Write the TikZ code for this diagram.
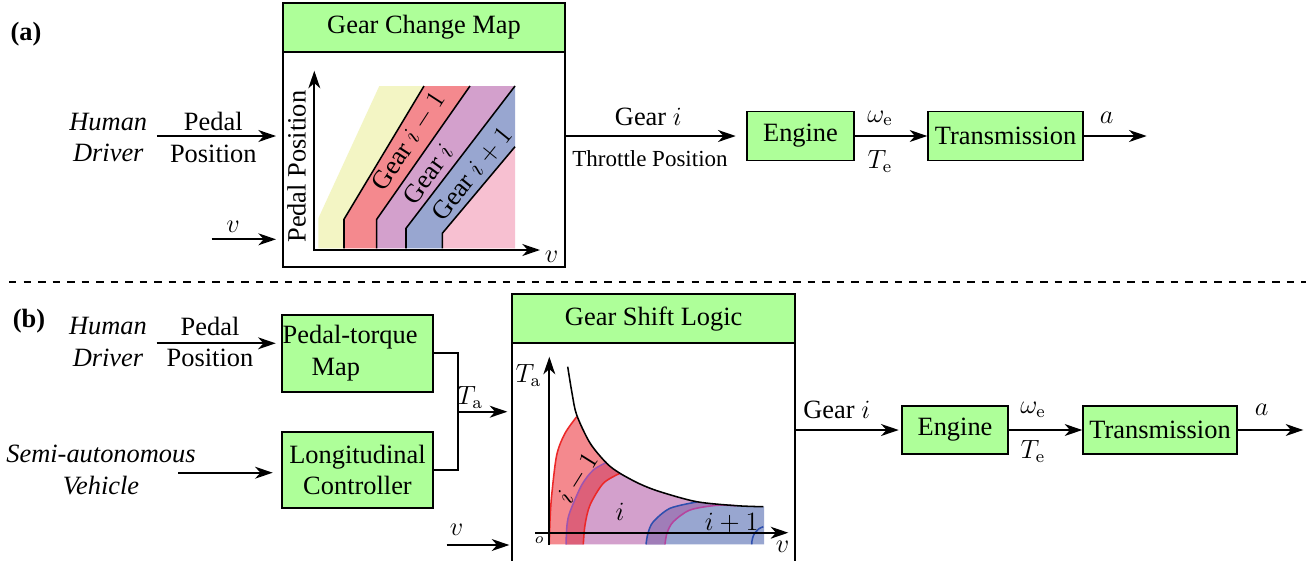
\documentclass[tikz,border=0pt,12pt]{standalone}
\usepackage[no-math]{fontspec}
\IfFontExistsTF{LiberationSerif-Regular.ttf}
 {\setmainfont{LiberationSerif}[Extension=.ttf,UprightFont=*-Regular,BoldFont=*-Bold,ItalicFont=*-Italic,BoldItalicFont=*-BoldItalic]}
 {\setmainfont{Liberation Serif}}
\usetikzlibrary{arrows.meta}
\newcommand\pxu{0.4545pt}
\definecolor{boxgreen}{RGB}{174,255,153}
\definecolor{cyellow}{RGB}{243,245,196}
\definecolor{cred}{RGB}{244,137,142}
\definecolor{cpurple}{RGB}{211,160,204}
\definecolor{cblue}{RGB}{152,166,208}
\definecolor{cpink}{RGB}{247,192,209}
\definecolor{credpur}{RGB}{221,96,121}
\definecolor{cpurblue}{RGB}{160,125,184}
\definecolor{lred}{RGB}{236,40,40}
\definecolor{lpurple}{RGB}{157,85,176}
\definecolor{lmagenta}{RGB}{181,68,158}
\definecolor{lblue}{RGB}{46,79,174}
\def\regRed{plot[smooth] coordinates {(549.3,546) (550,520) (551.7,495) (556.7,455) (565,433.3) (576.7,416.7) (586,403)} -- (586,340) -- (660,340) -- (650,456) -- plot[smooth] coordinates {(620,473.3) (603.3,483.3) (590,505) (585,525) (583.3,546)} -- cycle}
\def\regPur{plot[smooth] coordinates {(566,546) (567,525) (570,511.7) (581.7,485) (593.3,470) (606.7,462.3) (618,455)} -- (618,340) -- (770,340) -- (770,480) -- (745,497) -- plot[smooth] coordinates {(736.7,503) (716.7,505.3) (690,510) (673.3,521.7) (667,533) (665,546)} -- cycle}
\def\regBlu{plot[smooth] coordinates {(646,546) (648,533) (653.3,521.7) (670,508.3) (696.7,502) (715,498)} -- (715,460) -- (770,460) -- (770,546) -- cycle}
\begin{document}
\begin{tikzpicture}[x=\pxu,y=-\pxu,line width=0.9pt,
  >={Stealth[length=8pt,width=5.4pt,inset=2.4pt]},
  box/.style={draw,fill=boxgreen,inner sep=0pt,align=center},
  frame/.style={draw,fill=white,inner sep=0pt},
  bound/.style={line width=0.7pt},
  curve/.style={line width=0.7pt}]
\useasboundingbox (0,0) rectangle (1312,560);

% ================= (a) =================
\node[font=\bfseries] (la) at (26,34) {(a)};
\node[align=center,font=\itshape] (hdA) at (108.3,137.5) {Human\\Driver};
\node[align=center] (ppA) at (213.3,137.5) {Pedal\\Position};
\node[frame,minimum width=282*\pxu,minimum height=264*\pxu] (gcm) at (424,135) {};
\node[box,minimum width=282*\pxu,minimum height=49*\pxu,anchor=north] (gcmh) at (gcm.north) {Gear Change Map};

% bands
\fill[cyellow] (318.3,248.3) -- (318.3,218.3) -- (379.3,86) -- (424,86) -- (344,219.3) -- (344,248.3) -- cycle;
\fill[cred] (344,248.3) -- (344,219.3) -- (424,86) -- (470,86) -- (376.7,219.3) -- (376.7,248.3) -- cycle;
\fill[cpurple] (376.7,248.3) -- (376.7,219.3) -- (470,86) -- (515,86) -- (406,228.3) -- (406,248.3) -- cycle;
\fill[cblue] (406,248.3) -- (406,228.3) -- (515,86) -- (515,146.7) -- (442.3,233.3) -- (442.3,248.3) -- cycle;
\fill[cpink] (442.3,248.3) -- (442.3,233.3) -- (515,146.7) -- (515,248.3) -- cycle;
\draw[bound] (344,248.3) -- (344,219.3) -- (424,86);
\draw[bound] (376.7,248.3) -- (376.7,219.3) -- (470,86);
\draw[bound] (406,248.3) -- (406,228.3) -- (515,86);
\draw[bound] (442.3,248.3) -- (442.3,233.3) -- (515,146.7);
\draw[->] (314.3,251) -- (314.3,70.7);
\draw[->] (313.5,250) -- (540,250);
\node[rotate=90] (ylabA) at (296.7,166.7) {Pedal Position};
\node (vaxA) at (551.7,256.7) {$v$};
\node[rotate=57] (g1A) at (409,141.7) {Gear $i-1$};
\node[rotate=54] (g2A) at (428.3,174) {Gear $i$};
\node[rotate=51] (g3A) at (472.3,174) {Gear $i+1$};

% inputs
\draw[->,shorten >=6*\pxu] (hdA.east |- 0,136) -- (gcm.west |- 0,136);
\node (vinA) at (233,226.7) {$v$};
\coordinate (vsA) at (211.7,239.3);
\draw[->,shorten >=6*\pxu] (vsA) -- (vsA -| gcm.west);

% chain
\node[box,minimum width=107.6*\pxu,minimum height=49*\pxu] (engA) at (800.5,136) {Engine};
\node[box,minimum width=154.4*\pxu,minimum height=49*\pxu] (trA) at (1005.5,136) {Transmission};
\draw[->,shorten >=10*\pxu] (gcm.east |- engA.west) -- (engA.west);
\node (gearA) at (648.3,116.7) {Gear $i$};
\node[font=\fontsize{10.45}{12}\selectfont] (thrA) at (650,158.3) {Throttle Position};
\draw[->] (engA) -- (trA);
\node (weA) at (880,118.3) {$\omega_{\mathrm{e}}$};
\node (teA) at (880,161.7) {$T_{\mathrm{e}}$};
\coordinate (outA) at (1146.7,136);
\draw[->] (trA) -- (outA);
\node (aA) at (1106.7,118.3) {$a$};

% separator
\coordinate (dl) at (9,282);
\coordinate (dr) at (1306,282);
\draw[line width=0.7pt,dash pattern=on 3.4pt off 3.2pt] (dl) -- (dr);

% ================= (b) =================
\node[font=\bfseries] (lb) at (29,321) {(b)};
\node[align=center,font=\itshape] (hdB) at (108,342) {Human\\Driver};
\node[align=center] (ppB) at (210,342) {Pedal\\Position};
\node[align=center,font=\itshape] (sav) at (101,470) {Semi-autonomous\\Vehicle};
\node[box,minimum width=151.6*\pxu,minimum height=76.7*\pxu,text width=149.6*\pxu,inner xsep=1*\pxu,align=left] (ptm) at (357.5,353.3) {Pedal-torque\\\hspace*{13.2pt}Map};
\node[box,minimum width=151.6*\pxu,minimum height=76.7*\pxu] (lc) at (357.5,470) {Longitudinal\\Controller};
\draw[->,shorten >=5*\pxu] (hdB.east |- 0,343.3) -- (ptm.west |- 0,343.3);
\coordinate (savs) at (178.3,472.7);
\draw[->,shorten >=8*\pxu] (savs) -- (savs -| lc.west);

\node[frame,minimum width=282.7*\pxu,minimum height=270*\pxu] (gsl) at (653.7,429) {};
\node[box,minimum width=282.7*\pxu,minimum height=49.3*\pxu,anchor=north] (gslh) at (gsl.north) {Gear Shift Logic};

\coordinate (j) at (458,411.7);
\draw (ptm.east) -| (j) |- (lc.east);
\draw[->,shorten >=4*\pxu] (j) -- (j -| gsl.west);
\node (Ta) at (470,397) {$T_{\mathrm{a}}$};
\node (vinB) at (456.7,530) {$v$};
\coordinate (vsB) at (446.7,545);
\draw[->,shorten >=2*\pxu] (vsB) -- (vsB -| gsl.west);

% chart (b)
\begin{scope}
\clip (540,330) -- (567.7,330) -- plot[smooth] coordinates {(567.7,366.7) (572,393) (576.7,415) (590,443) (606.7,463.3) (620,473.3) (640,484) (660,491.7) (696.7,501.7) (736.7,505.7) (763.3,506.7)} -- (764,506.7) -- (764,544.3) -- (540,544.3) -- cycle;
\fill[cred] \regRed;
\fill[cpurple] \regPur;
\fill[cblue] \regBlu;
\begin{scope}
\clip \regRed;
\fill[credpur] \regPur;
\end{scope}
\begin{scope}
\clip \regPur;
\fill[cpurblue] \regBlu;
\end{scope}
\end{scope}
\draw[curve,lred] plot[smooth] coordinates {(549.3,544.3) (550,520) (551.7,495) (556.7,455) (565,433.3) (576.7,416.7)};
\draw[curve,lred] plot[smooth] coordinates {(583.3,544.3) (585,525) (590,505) (603.3,483.3) (620,473.3)};
\draw[curve,lpurple] plot[smooth] coordinates {(566,544.3) (567,525) (570,511.7) (581.7,485) (593.3,470) (606.7,462.3)};
\draw[curve,lmagenta] plot[smooth] coordinates {(665,544.3) (667,533) (673.3,521.7) (690,510) (716.7,505.3) (736,505.8)};
\draw[curve,lblue] plot[smooth] coordinates {(646,544.3) (648,533) (653.3,521.7) (670,508.3) (696.7,502)};
\draw[curve,lblue] (751.7,544.3) .. controls (752,535) and (756,529) .. (763.3,526.7);
\draw[curve] plot[smooth] coordinates {(567.7,366.7) (572,393) (576.7,415) (590,443) (606.7,463.3) (620,473.3) (640,484) (660,491.7) (696.7,501.7) (736.7,505.7) (763.3,506.7)};
\draw[->] (549.3,545) -- (549.3,356.7);
\draw[->] (535,532.7) -- (788.3,532.7);
\node (TaAx) at (528.3,375) {$T_{\mathrm{a}}$};
\node[font=\fontsize{7.5}{9}\selectfont] (orig) at (539.3,540) {$o$};
\node (vaxB) at (782.7,546.7) {$v$};
\node[rotate=58] (l1B) at (578.3,478.3) {$i-1$};
\node (l2B) at (620,511.7) {$i$};
\node (l3B) at (731.7,523.3) {$i+1$};

% chain (b)
\node[box,minimum width=106.6*\pxu,minimum height=48*\pxu] (engB) at (955,430) {Engine};
\node[box,minimum width=153.4*\pxu,minimum height=48*\pxu] (trB) at (1160,430) {Transmission};
\draw[->,shorten >=2*\pxu] (gsl.east |- engB.west) -- (engB.west);
\node (gearB) at (836.7,410) {Gear $i$};
\draw[->] (engB) -- (trB);
\node (weB) at (1033,410) {$\omega_{\mathrm{e}}$};
\node (teB) at (1033,451.7) {$T_{\mathrm{e}}$};
\coordinate (outB) at (1303.3,430);
\draw[->] (trB) -- (outB);
\node (aB) at (1261.7,410) {$a$};
\end{tikzpicture}
\end{document}
